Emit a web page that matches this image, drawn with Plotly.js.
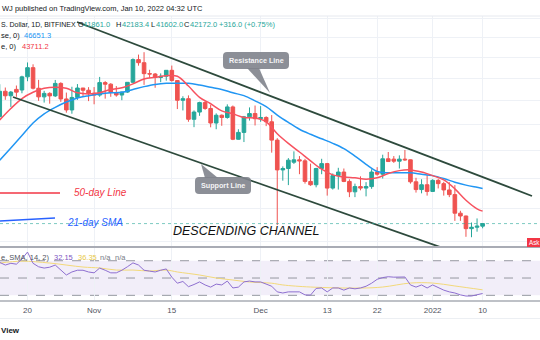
<!DOCTYPE html>
<html><head><meta charset="utf-8">
<script src="https://cdn.plot.ly/plotly-3.0.1.min.js"></script>
<style>html,body{margin:0;padding:0;background:#fff;}#chart{width:540px;height:340px;}</style>
</head><body><div id="chart"></div>
<script>
// ---------------- DATA ----------------
const dates = ['2021-10-15','2021-10-16','2021-10-17','2021-10-18','2021-10-19','2021-10-20','2021-10-21','2021-10-22','2021-10-23','2021-10-24','2021-10-25','2021-10-26','2021-10-27','2021-10-28','2021-10-29','2021-10-30','2021-10-31',
'2021-11-01','2021-11-02','2021-11-03','2021-11-04','2021-11-05','2021-11-06','2021-11-07','2021-11-08','2021-11-09','2021-11-10','2021-11-11','2021-11-12','2021-11-13','2021-11-14','2021-11-15','2021-11-16','2021-11-17','2021-11-18','2021-11-19','2021-11-20','2021-11-21','2021-11-22','2021-11-23','2021-11-24','2021-11-25','2021-11-26','2021-11-27','2021-11-28','2021-11-29','2021-11-30',
'2021-12-01','2021-12-02','2021-12-03','2021-12-04','2021-12-05','2021-12-06','2021-12-07','2021-12-08','2021-12-09','2021-12-10','2021-12-11','2021-12-12','2021-12-13','2021-12-14','2021-12-15','2021-12-16','2021-12-17','2021-12-18','2021-12-19','2021-12-20','2021-12-21','2021-12-22','2021-12-23','2021-12-24','2021-12-25','2021-12-26','2021-12-27','2021-12-28','2021-12-29','2021-12-30','2021-12-31',
'2022-01-01','2022-01-02','2022-01-03','2022-01-04','2022-01-05','2022-01-06','2022-01-07','2022-01-08','2022-01-09','2022-01-10'];
const open  = [57370,61670,60880,62010,61900,64280,66000,62210,60690,61300,60860,63080,60330,58450,60590,62250,61860,
61320,61000,63230,62940,61440,61010,61530,63280,67550,66950,64880,64810,64160,64400,65500,63600,60100,60370,56900,58100,59700,58700,56300,57570,57200,58960,53730,54800,57300,57850,
57000,57200,56500,53600,49200,49400,50300,50650,50500,47600,47150,49400,50100,46700,48400,48900,47600,46200,46900,46700,46900,48900,48600,50800,50750,50450,50750,50650,47550,46500,47150,
46250,47750,47300,46450,45830,43450,43100,41560,41730,41861];
const high  = [62930,62340,61720,62700,64490,67000,66640,63730,61750,61500,63710,63290,61440,62480,62960,62270,62410,
62420,64270,63500,63130,62600,61600,63290,67790,68530,69000,65600,65000,64920,65500,66400,63620,60800,60950,58370,59850,60000,59290,57880,57700,59400,59200,55300,57450,58880,59200,
59100,57400,57600,53900,49700,50900,51900,51200,50800,50100,49500,50800,50200,48700,49500,49400,47900,47300,48300,47500,49300,49600,51400,51800,51200,51300,52100,50700,48100,47900,48500,
47900,47950,47550,47500,47100,43750,43150,42300,42800,42183.4];
const low   = [56850,60180,58960,60700,61320,63480,62000,60000,59700,59510,60660,59820,58000,57820,60170,60720,59950,
59410,60700,60380,60700,60720,60110,61380,63120,66380,62820,64100,62300,63300,63580,63400,58600,58370,56500,55630,57470,58470,55610,55300,55850,57000,53600,53680,53300,56700,55900,
56500,55800,51700,42000,47700,47100,50050,48600,47300,47000,46800,48600,45700,46500,46500,47500,45500,45500,46400,45600,46600,48400,48000,50400,50200,49400,50500,47300,46100,46000,45700,
46200,46650,45700,45500,42500,42500,40600,40550,41200,41602];
const close = [61670,60880,61530,61520,64280,66000,62210,60690,61300,60860,63080,60330,58450,60590,62250,61860,61320,
61000,63230,62940,61440,61010,61530,63280,67550,66950,64880,64810,64160,64400,65500,63600,60100,60370,56900,58100,59700,58700,56300,57570,57200,58960,53730,54800,57300,57850,57000,
57200,56500,53600,49200,49400,50600,50650,50500,47600,47150,49400,50100,46700,48400,48900,47600,46200,46900,46700,46900,48900,48600,50800,50400,50450,50750,50650,47550,46500,47150,46250,
47750,47300,46450,45830,43450,43100,41560,41730,41860,42172];

// moving averages
const maDates = ['2021-10-15','2021-10-17','2021-10-19','2021-10-21','2021-10-23','2021-10-25','2021-10-27','2021-10-29','2021-10-31','2021-11-02','2021-11-04','2021-11-06','2021-11-08','2021-11-10','2021-11-12','2021-11-14','2021-11-16','2021-11-18','2021-11-20','2021-11-22','2021-11-24','2021-11-26','2021-11-28','2021-11-30','2021-12-02','2021-12-04','2021-12-06','2021-12-08','2021-12-10','2021-12-12','2021-12-14','2021-12-16','2021-12-18','2021-12-20','2021-12-22','2021-12-24','2021-12-26','2021-12-28','2021-12-30','2022-01-01','2022-01-03','2022-01-05','2022-01-07','2022-01-09','2022-01-10'];
const maRed  = [56800,58700,60400,61500,62200,62400,62200,61400,61200,61400,62000,62300,63000,63900,64200,64500,64400,62600,60600,59500,58300,57800,57200,57100,56500,54600,53100,51800,50500,49300,48500,48200,48100,47900,48100,48700,49100,49200,48900,48400,47800,46600,45100,44000,43711.2];
const maBlue = [50600,52400,54300,56300,57800,58900,59800,60500,60900,61200,61400,61500,62000,62500,62900,63100,63100,63100,62800,62400,62000,61400,60900,60000,59000,57600,56400,55300,54500,53800,53100,52300,51200,50000,49000,48800,48800,48800,48600,48400,48000,47500,47100,46800,46651.3];

// RSI (14) and its SMA
const rsi = [68,65,67,66,72,80,67,63,61.5,62.5,65,59,53.5,57,59,59,57,
56,61.5,59,56,56,59,63,67.5,65,59,58,57,59,60.5,51,44,46,40,42.5,45.5,42,39.5,43,42,46.5,38.5,39.5,45.5,46.5,45.5,
45.5,43,40.5,34,32.7,34,34,34,30.5,30.3,38,38.5,34,38.5,38.5,36,38.5,37.5,38.5,40.5,44,48.5,50.5,51.5,51,51.5,51.2,42,39.5,42,38.5,
42,38.5,36,34,32.7,30.5,29.2,29.2,30.3,32.15];
const rsiMaDates = ['2021-10-15','2021-10-19','2021-10-24','2021-10-30','2021-11-02','2021-11-05','2021-11-08','2021-11-11','2021-11-14','2021-11-16','2021-11-20','2021-11-23','2021-11-26','2021-11-29','2021-12-03','2021-12-05','2021-12-10','2021-12-19','2021-12-23','2021-12-28','2022-01-01','2022-01-05','2022-01-10'];
const rsiMa = [67.3,69.5,67.3,62.7,61.6,59.2,59.2,58.1,59.2,57,53.5,50,47.7,45.4,44,42,39.6,38.4,39.6,44.2,44.2,40.8,36.35];

// channel trendlines (two anchor points each)
const resistanceX = ['2021-10-28 22:00','2022-01-18 21:30'];
const resistanceY = [75250, 45650];
const supportX = ['2021-10-17 09:20','2022-01-02 08:00'];
const supportY = [60670, 39430];

// axis ticks
const tickDates  = ['2021-10-20','2021-11-01','2021-11-15','2021-12-01','2021-12-13','2021-12-22','2022-01-01','2022-01-10'];
const tickLabels = ['20','Nov','15','Dec','13','22','2022','10'];
const priceGrid  = [40000,44000,48000,52000,56000,60000,64000,68000,72000,76000];

// ---------------- DRAW ----------------
const W = 540, H = 340;
const X = v => v / W, Y = v => 1 - v / H;
const F = 'Liberation Sans, Arial, sans-serif';
const GREEN = '#26a69a', RED = '#ef5350';
const xRange = ['2021-10-15 01:05', '2022-01-20 08:10'];

const traces = [
  {type:'candlestick', x:dates, open:open, high:high, low:low, close:close, xaxis:'x', yaxis:'y',
   increasing:{line:{color:GREEN,width:1}, fillcolor:GREEN},
   decreasing:{line:{color:RED,width:1}, fillcolor:RED}, whiskerwidth:0, hoverinfo:'skip'},
  {type:'scatter', mode:'lines', x:maDates, y:maBlue, line:{color:'#2196f3', width:1.5, shape:'spline'}, xaxis:'x', yaxis:'y', hoverinfo:'skip'},
  {type:'scatter', mode:'lines', x:maDates, y:maRed, line:{color:'#f7525f', width:1.5, shape:'spline'}, xaxis:'x', yaxis:'y', hoverinfo:'skip'},
  {type:'scatter', mode:'lines', x:resistanceX, y:resistanceY, line:{color:'#2d4a3c', width:1.8}, xaxis:'x', yaxis:'y', hoverinfo:'skip'},
  {type:'scatter', mode:'lines', x:supportX, y:supportY, line:{color:'#2d4a3c', width:1.8}, xaxis:'x', yaxis:'y', hoverinfo:'skip'},
  {type:'scatter', mode:'lines', x:rsiMaDates, y:rsiMa, line:{color:'#f3d97a', width:1, shape:'spline'}, xaxis:'x2', yaxis:'y2', hoverinfo:'skip'},
  {type:'scatter', mode:'lines', x:dates, y:rsi, line:{color:'#8e6fd0', width:1}, xaxis:'x2', yaxis:'y2', hoverinfo:'skip'}
];

function rr(x0,y0,x1,y1,r){
  const a=v=>X(v).toFixed(5), b=v=>Y(v).toFixed(5);
  return `M${a(x0+r)},${b(y0)} L${a(x1-r)},${b(y0)} Q${a(x1)},${b(y0)} ${a(x1)},${b(y0+r)} L${a(x1)},${b(y1-r)} Q${a(x1)},${b(y1)} ${a(x1-r)},${b(y1)} L${a(x0+r)},${b(y1)} Q${a(x0)},${b(y1)} ${a(x0)},${b(y1-r)} L${a(x0)},${b(y0+r)} Q${a(x0)},${b(y0)} ${a(x0+r)},${b(y0)} Z`;
}
function tri(p){ return 'M' + p.map(q => X(q[0]).toFixed(5)+','+Y(q[1]).toFixed(5)).join(' L') + ' Z'; }
const calloutFill = 'rgba(128,131,140,0.9)';

const shapes = [
  {type:'rect', xref:'paper', yref:'y2', x0:0, x1:1, y0:30, y1:70, fillcolor:'rgba(126,87,194,0.10)', line:{width:0}, layer:'below'},
  {type:'line', xref:'paper', yref:'y2', x0:0, x1:1, y0:70, y1:70, line:{color:'#9598a1', width:1, dash:'dash'}, layer:'below'},
  {type:'line', xref:'paper', yref:'y2', x0:0, x1:1, y0:50, y1:50, line:{color:'#9598a1', width:1, dash:'dash'}, layer:'below'},
  {type:'line', xref:'paper', yref:'y2', x0:0, x1:1, y0:30, y1:30, line:{color:'#9598a1', width:1, dash:'dash'}, layer:'below'},
  {type:'line', xref:'paper', yref:'y', x0:0, x1:1, y0:close[close.length-1], y1:close[close.length-1], line:{color:'rgba(38,166,154,0.6)', width:1, dash:'dot'}},
  {type:'line', xref:'paper', yref:'paper', x0:0, x1:1, y0:Y(16), y1:Y(16), line:{color:'#e6e9ef', width:1}},
  {type:'line', xref:'paper', yref:'paper', x0:0, x1:1, y0:Y(247), y1:Y(247), line:{color:'#a9acb5', width:2}},
  {type:'line', xref:'paper', yref:'paper', x0:0, x1:1, y0:Y(301), y1:Y(301), line:{color:'#a9acb5', width:1.5}},
  {type:'line', xref:'paper', yref:'paper', x0:0, x1:1, y0:Y(318.5), y1:Y(318.5), line:{color:'#eceff3', width:1}},
  {type:'line', xref:'paper', yref:'paper', x0:0, x1:X(60), y0:Y(193), y1:Y(193), line:{color:'#f23645', width:1.5}},
  {type:'line', xref:'paper', yref:'paper', x0:0, x1:X(55), y0:Y(221), y1:Y(218), line:{color:'#2962ff', width:1.5}},
  {type:'path', xref:'paper', yref:'paper', path:rr(223,52,289,69,4), fillcolor:calloutFill, line:{width:0}},
  {type:'path', xref:'paper', yref:'paper', path:tri([[247,68],[270,93],[259,68]]), fillcolor:calloutFill, line:{width:0}},
  {type:'path', xref:'paper', yref:'paper', path:rr(195,177,251,194,4), fillcolor:calloutFill, line:{width:0}},
  {type:'path', xref:'paper', yref:'paper', path:tri([[205,178],[201,164],[218,178]]), fillcolor:calloutFill, line:{width:0}},
  {type:'rect', xref:'paper', yref:'paper', x0:X(527), x1:X(542), y0:Y(247), y1:Y(238), fillcolor:'#f23645', line:{width:0}}
];

function txt(x, y, text, color, size, extra){
  return Object.assign({xref:'paper', yref:'paper', x:X(x), y:Y(y), text:text, showarrow:false,
    xanchor:'left', yanchor:'middle', font:{family:F, size:size, color:color}}, extra||{});
}
const dark = '#131722', teal = '#26a69a';
const annotations = [
  txt(0, 8, 'WJ published on TradingView.com, Jan 10, 2022 04:32 UTC', dark, 7.5),
  txt(-1, 25, 'S. Dollar, 1D, BITFINEX', dark, 7),
  txt(76, 25, 'O', dark, 7.3), txt(81, 25, '41861.0', teal, 7.5),
  txt(114, 25, 'H', dark, 7.5), txt(120, 25, '42183.4', teal, 7.5),
  txt(149, 25, 'L', dark, 7.5), txt(154, 25, '41602.0', teal, 7.5),
  txt(182, 25, 'C', dark, 7.5), txt(188, 25, '42172.0', teal, 7.5),
  txt(217, 25, '+316.0 (+0.75%)', teal, 7.5),
  txt(-1, 36, 'se, 0)', dark, 7.5), txt(22, 36, '46651.3', '#2196f3', 7.5),
  txt(-1, 47, 'e, 0)', dark, 7.5), txt(20, 47, '43711.2', '#f23645', 7.5),
  txt(-1, 257, 'e, SMA, 14, 2)', '#50535e', 7.5),
  txt(52, 257, '32.15', '#7e57c2', 7.5), txt(76, 257, '36.35', '#e8c94a', 7.5),
  txt(98, 257, 'n/a', '#787b86', 7.5), txt(113, 257, 'n/a', '#787b86', 7.5),
  txt(256, 60.5, '<b>Resistance Line</b>', '#f4f4f6', 7.2, {xanchor:'center'}),
  txt(223, 185.5, '<b>Support Line</b>', '#f4f4f6', 7.2, {xanchor:'center'}),
  txt(72, 192, '<i>50-day Line</i>', '#f23645', 10),
  txt(65, 222, '<i>21-day SMA</i>', '#2962ff', 10),
  txt(246, 231, '<i>DESCENDING CHANNEL</i>', '#111111', 12.5, {xanchor:'center'}),
  txt(526.5, 242.5, 'Ask', '#ffffff', 6.3),
  txt(-1, 330.5, '<b>View</b>', dark, 8)
];

const layout = {
  width:W, height:H, margin:{l:0,r:0,t:0,b:0},
  paper_bgcolor:'#ffffff', plot_bgcolor:'rgba(0,0,0,0)',
  showlegend:false, boxgap:0.35, boxgroupgap:0,
  font:{family:F},
  xaxis:{type:'date', domain:[0,1], range:xRange, anchor:'y', tickvals:tickDates, showticklabels:false,
         showgrid:true, gridcolor:'#eef1f6', gridwidth:1, zeroline:false, showline:false, ticks:'',
         rangeslider:{visible:false}, fixedrange:true},
  yaxis:{type:'log', domain:[Y(246), Y(16)], range:[Math.log10(39541), Math.log10(76562)],
         tickvals:priceGrid, showticklabels:false, showgrid:true, gridcolor:'#eef1f6', zeroline:false, ticks:'', fixedrange:true},
  xaxis2:{type:'date', domain:[0,1], range:xRange, anchor:'y2', tickvals:tickDates, ticktext:tickLabels,
          tickfont:{family:F, size:8, color:'#50535e'}, ticks:'', ticklabelstandoff:4,
          showgrid:true, gridcolor:'#eef1f6', zeroline:false, showline:false, fixedrange:true},
  yaxis2:{domain:[Y(300), Y(248)], range:[24.6, 84.7], showticklabels:false, showgrid:false, zeroline:false, ticks:'', fixedrange:true},
  shapes:shapes, annotations:annotations
};

Plotly.newPlot('chart', traces, layout, {staticPlot:true, displayModeBar:false});
</script>
</body></html>
